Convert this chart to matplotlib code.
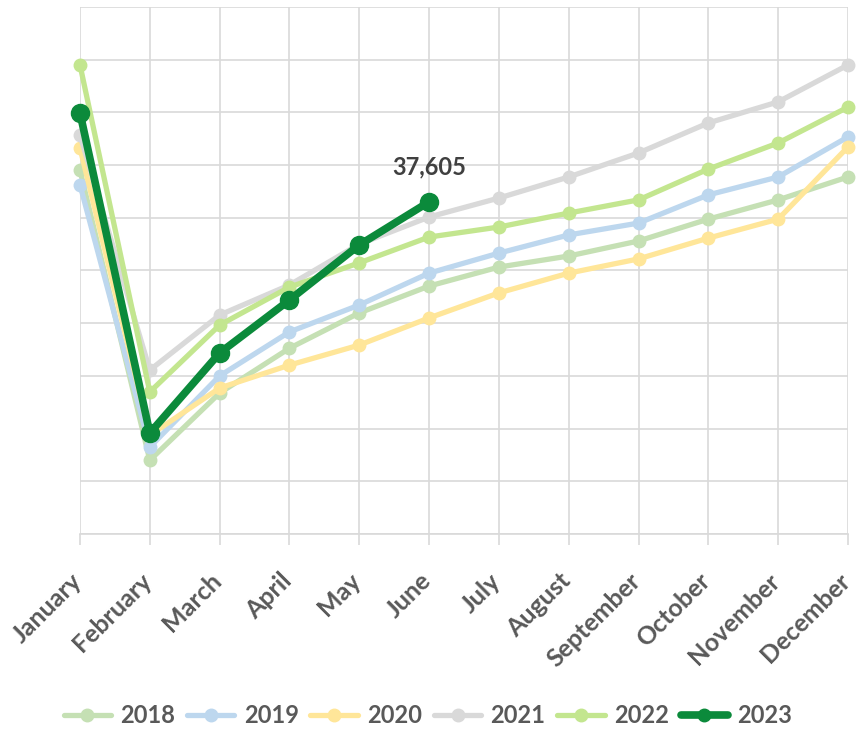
import matplotlib
matplotlib.use("Agg")
import matplotlib.pyplot as plt
import matplotlib.transforms as mtransforms

months = ["January", "February", "March", "April", "May", "June", "July",
          "August", "September", "October", "November", "December"]
years = ["2018", "2019", "2020", "2021", "2022", "2023"]

v2018 = [38800, 27800, 30350, 32050, 33390, 34410, 35130, 35550, 36120, 36950, 37680, 38550]
v2019 = [38250, 28300, 31000, 32670, 33690, 34900, 35660, 36350, 36800, 37870, 38550, 40070]
v2020 = [39650, 28750, 30540, 31410, 32170, 33200, 34150, 34900, 35440, 36230, 36950, 39690]
v2021 = [40140, 31220, 33310, 34450, 36000, 37030, 37750, 38550, 39460, 40600, 41400, 42800]
v2022 = [42800, 30390, 32930, 34370, 35290, 36270, 36650, 37180, 37680, 38850, 39840, 41200]
v2023 = [40980, 28830, 31870, 33880, 35970, 37605]

colors = ["#c5e0b4", "#bdd7ee", "#ffe699", "#d9d9d9", "#c3e68f", "#0b8a3b"]
series = [v2018, v2019, v2020, v2021, v2022, v2023]

y_min, y_max, y_step = 25000, 45000, 2000

plt.rcParams['font.family'] = ['Lato', 'DejaVu Sans']
fig = plt.figure(figsize=(8.56, 7.3), dpi=100)
ax = fig.add_axes([80/856, 1-534/730, 768/856, 527/730])

x = list(range(len(months)))
for i, (yr, vals, c) in enumerate(zip(years, series, colors)):
    if yr == "2023":
        ax.plot(x[:len(vals)], vals, color=c, lw=5.5, marker='o', ms=13,
                label=yr, zorder=10, clip_on=False, solid_capstyle='round')
    else:
        ax.plot(x[:len(vals)], vals, color=c, lw=3.8, marker='o', ms=9,
                label=yr, zorder=3 + i, clip_on=False, solid_capstyle='round')

ax.annotate(f"{v2023[-1]:,}", (5, v2023[-1]), xytext=(0, 17), textcoords='offset points',
            ha='center', va='bottom', fontsize=17, fontweight='bold', color='#404040')

ax.set_xlim(0, 11)
ax.set_ylim(y_min, y_max)
ax.set_yticks(range(y_min, y_max + 1, y_step))
ax.set_yticklabels([])
ax.set_xticks(x)
ax.set_xticklabels([])

# rotated month labels (Excel-like placement)
base = mtransforms.blended_transform_factory(ax.transData, ax.transAxes)
offset = mtransforms.ScaledTranslation(-2/100, -43/100, fig.dpi_scale_trans)
for i, m in zip(x, months):
    ax.text(i, 0, m, transform=base + offset, rotation=45, rotation_mode='anchor',
            ha='right', va='center', fontsize=18, fontweight='bold', color='#595959',
            clip_on=False)

ax.tick_params(axis='y', length=0)
ax.tick_params(axis='x', length=8, width=1.2, color='#d9d9d9')
ax.grid(True, color='#d9d9d9', lw=1.2)
ax.set_axisbelow(True)
for s in ['top', 'right']:
    ax.spines[s].set_visible(False)
ax.spines['left'].set_visible(False)
ax.spines['bottom'].set_color('#d9d9d9')
ax.spines['bottom'].set_linewidth(1.2)

leg = fig.legend(loc='lower center', bbox_to_anchor=(0.5, -0.025), ncol=6, frameon=False,
                 handlelength=2.0, columnspacing=0.5, handletextpad=0.4,
                 prop={'weight': 'bold', 'size': 17})
for t in leg.get_texts():
    t.set_color('#595959')
for h in leg.get_lines():
    h.set_markersize(9)

fig.savefig("out.png", dpi=100)
